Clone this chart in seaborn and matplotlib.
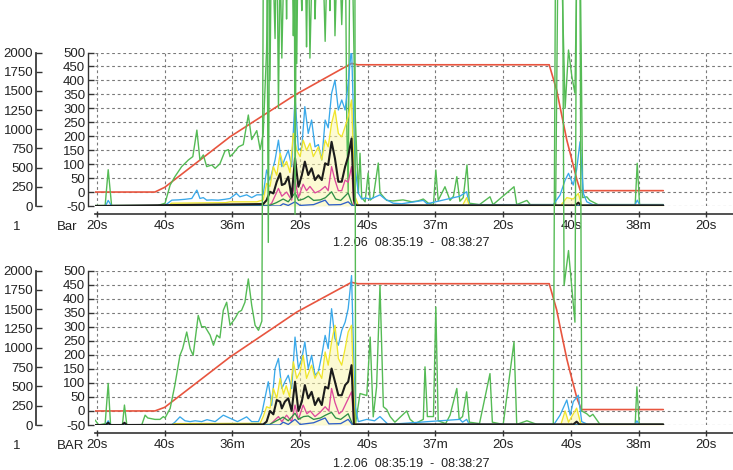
import matplotlib
matplotlib.use("Agg")
import matplotlib.pyplot as plt
import seaborn as sns
import pandas as pd
from matplotlib.transforms import Bbox, TransformedBbox

# ---------------- data (time = seconds after 08:35:00, value on -50..500 scale) -------------
X_TICKS = [20, 40, 60, 80, 100, 120, 140, 160, 180, 200]
X_LABELS = ["20s", "40s", "36m", "20s", "40s", "37m", "20s", "40s", "38m", "20s"]
Y_TICKS = [-50, 0, 50, 100, 150, 200, 250, 300, 350, 400, 450, 500]
Y2_TICKS = [0, 250, 500, 750, 1000, 1250, 1500, 1750, 2000]
DATE_TEXT = "1.2.06  08:35:19  -  08:38:27"
UNITS = ["Bar", "BAR"]

TOP_RED = [(19.4, 0), (37.1, 0), (40.0, 17), (59.3, 198), (78.5, 348), (95.2, 461), (97.0, 456),
           (153.6, 456), (155.8, 365), (156.8, 305), (158.8, 186), (159.8, 139), (161.8, 43),
           (162.8, 5), (187.3, 5)]
BOT_RED = [(19.4, 0), (37.1, 0), (40.0, 13), (59.3, 192), (79.0, 352), (95.2, 458), (97.0, 453),
           (153.6, 453), (155.8, 360), (156.8, 300), (158.8, 185), (159.8, 137), (161.8, 45),
           (163.1, 5), (187.3, 5)]

TOP_GREEN = [(19.4, -48), (22.4, -48), (23.3, 80), (24.3, -48), (38.0, -48), (40.1, -40), (41.6, 25),
             (43.0, 55), (45.0, 91), (47.0, 115), (48.3, 127), (49.5, 222), (50.4, 115), (51.4, 133),
             (52.4, 91), (53.9, 97), (54.9, 85), (56.3, 101), (57.8, 147), (58.8, 152), (59.3, 127),
             (60.3, 139), (61.8, 162), (63.2, 170), (64.7, 276), (65.7, 188), (67.2, 220), (68.2, 152),
             (69.1, 210), (70.1, 510), (70.6, 900), (71.1, 400), (71.6, 1000), (72.6, 550), (73.1, 1000),
             (73.6, 300), (74.1, 850), (74.6, 480), (75.5, 1000), (76.0, 620), (76.5, 1000), (77.0, 700),
             (77.5, 1000), (78.0, 560), (78.5, 900), (79.0, 460), (79.5, 1000), (80.5, 650), (81.4, 1000),
             (81.9, 520), (82.4, 950), (82.9, 480), (83.9, 1000), (84.4, 620), (85.4, 1000), (85.9, 700),
             (86.4, 1000), (87.4, 540), (88.3, 1000), (88.8, 650), (89.8, 1000), (90.3, 560), (91.3, 1000),
             (92.3, 600), (93.3, 1000), (93.8, 230), (94.2, 0), (94.7, 900), (95.2, 1000), (96.2, 300),
             (97.2, -5), (97.7, 139), (98.2, -20), (99.2, -35), (100.1, 68), (100.7, -29), (101.6, -20),
             (103.1, 104), (103.6, -3), (105.6, -30), (107.5, -32), (110.4, -28), (113.0, -35),
             (114.8, -32), (116.4, -25), (117.9, -40), (119.4, -45), (120.1, 79), (120.8, -30),
             (122.8, 19), (124.3, -30), (125.3, -15), (126.3, 55), (127.2, -33), (128.2, -20),
             (129.3, 97), (130.0, -40), (133.0, -45), (136.1, -17), (137.0, -45), (143.2, 19),
             (144.0, -45), (147.0, -30), (148.0, -45), (155.5, -45), (156.3, 1000), (157.3, 800),
             (158.3, 300), (159.3, 509), (160.3, 413), (161.2, 354), (162.0, 1000), (162.7, 900),
             (163.5, -20), (164.7, -17), (165.6, -30), (168.0, -45), (179.0, -45), (179.6, 103),
             (180.3, -45), (187.3, -45)]
BOT_GREEN = [(19.4, -32), (20.5, -50), (22.4, -45), (23.3, 98), (24.0, -50), (27.5, -50), (28.1, 21),
             (28.8, -50), (33.2, -50), (34.2, -15), (35.0, -25), (37.1, -30), (38.6, -30), (39.6, -20),
             (40.1, -25), (41.6, 9), (43.0, 92), (44.5, 198), (45.3, 222), (46.5, 281), (47.5, 222),
             (48.4, 198), (49.9, 340), (50.9, 300), (51.9, 300), (53.4, 270), (54.4, 234), (55.4, 270),
             (56.3, 260), (57.3, 358), (58.3, 387), (59.3, 305), (60.8, 330), (61.8, 352), (62.7, 358),
             (63.7, 387), (64.7, 470), (65.7, 376), (66.7, 305), (67.7, 287), (68.7, 320), (69.6, 3000),
             (70.6, 600), (71.6, 3000), (78.0, 3000), (78.5, 700), (79.5, 3000), (85.0, 2200),
             (90.0, 3000), (96.0, 3000), (96.4, -43), (97.7, 62), (99.7, 55), (100.7, 263),
             (101.6, -21), (102.6, 86), (103.6, 447), (104.6, 15), (105.6, 5), (106.6, -20), (108.0, -40),
             (111.5, 0), (112.5, -30), (114.0, -45), (116.4, -30), (116.9, 157), (117.6, -20),
             (119.4, -20), (120.1, 370), (120.8, -35), (123.0, -45), (124.3, -15), (126.3, 80),
             (127.0, -30), (128.0, -20), (129.2, 68), (130.0, -40), (133.0, -45), (136.1, 133),
             (136.8, -40), (140.0, -48), (143.2, 246), (144.0, -48), (147.0, -35), (150.0, -48),
             (154.8, -48), (156.0, 3000), (157.0, 3000), (158.0, 447), (159.3, 571), (160.3, 435),
             (161.2, 316), (162.2, 3000), (163.2, 0), (164.7, -10), (165.6, -20), (166.5, -12),
             (168.6, -48), (179.0, -48), (179.5, 86), (180.2, -48), (187.3, -48)]

TOP_BLUE = [(19.4, -50), (22.5, -50), (23.3, -30), (24.3, -50), (40.1, -50), (40.6, -43), (42.1, -29),
            (44.0, -28), (46.0, -26), (48.0, -23), (49.5, 7), (50.4, -23), (51.4, -20), (52.4, -29),
            (53.9, -28), (55.8, -29), (57.8, -26), (59.3, -23), (61.2, -5), (62.2, -17), (64.2, -10),
            (65.7, -20), (67.2, -10), (69.1, -10), (70.1, 79), (71.1, 43), (72.6, 115), (73.6, 186),
            (74.6, 91), (75.5, 120), (76.5, 150), (77.5, 91), (78.5, 342), (79.5, 150), (80.5, 160),
            (81.4, 306), (82.4, 210), (83.4, 258), (84.4, 162), (85.4, 170), (86.4, 115), (87.4, 258),
            (88.3, 230), (89.3, 354), (90.3, 401), (91.3, 294), (92.3, 330), (93.3, 294), (94.2, 390),
            (95.2, 520), (96.2, 91), (97.2, -4), (98.2, -25), (99.2, -21), (100.7, -25), (101.6, -21),
            (103.6, -10), (105.1, -25), (107.5, -40), (110.0, -42), (116.4, -30), (117.5, -42),
            (127.2, -15), (129.2, 1), (130.0, -45), (154.8, -45), (156.8, -11), (158.3, 43),
            (159.3, 67), (160.7, 25), (161.7, 80), (162.7, 180), (163.7, -5), (164.7, -35),
            (166.5, -45), (179.0, -45), (179.6, -29), (180.3, -45), (187.3, -45)]
BOT_BLUE = [(19.4, -50), (22.5, -50), (23.3, -35), (24.0, -50), (42.0, -50), (43.0, -40), (44.5, -21),
            (46.0, -35), (47.5, -38), (49.0, -35), (50.9, -38), (52.5, -31), (54.9, -38), (57.3, -15),
            (59.3, -26), (61.5, -38), (64.2, -21), (65.7, -38), (67.7, -38), (68.7, -8), (69.6, 45),
            (70.6, 104), (71.6, 20), (72.6, 151), (73.6, 187), (74.6, 80), (75.5, 104), (76.5, 127),
            (77.5, 80), (78.5, 263), (79.5, 151), (80.5, 187), (81.4, 246), (82.4, 151), (83.4, 198),
            (84.4, 127), (85.4, 140), (86.4, 198), (87.4, 269), (88.3, 222), (89.3, 364), (90.3, 258),
            (91.3, 234), (92.3, 287), (93.3, 316), (94.2, 364), (95.2, 482), (96.2, 21), (97.2, -38),
            (99.7, -30), (102.0, -35), (103.6, -20), (106.0, -48), (127.2, -30), (128.0, -40),
            (129.2, -30), (130.0, -48), (155.0, -48), (156.8, -15), (158.8, 39), (159.8, -15),
            (160.7, 33), (162.2, 56), (163.2, -38), (165.0, -48), (179.0, -48), (179.5, -35),
            (180.2, -48), (187.3, -48)]

TOP_YELLOW = [(19.4, -50), (41.0, -50), (42.0, -40), (58.0, -38), (59.3, -35), (67.2, -35), (69.1, -28),
              (70.1, 31), (71.1, 20), (72.1, 91), (73.1, 60), (74.1, 139), (75.1, 91), (76.0, 110),
              (77.0, 70), (78.0, 210), (79.0, 150), (80.0, 127), (80.9, 186), (81.9, 150), (82.9, 175),
              (83.9, 127), (85.4, 162), (86.4, 115), (87.4, 186), (88.3, 162), (89.3, 246), (90.3, 294),
              (91.3, 210), (92.3, 198), (93.3, 234), (94.2, 270), (95.2, 330), (96.2, -15), (97.2, -48),
              (128.0, -48), (129.2, -20), (130.0, -48), (157.0, -48), (158.8, -20), (160.7, -25),
              (162.2, -5), (163.2, -48), (187.3, -48)]
BOT_YELLOW = [(19.4, -50), (42.0, -50), (43.0, -45), (68.2, -44), (69.1, -20), (70.1, 15), (71.1, 10),
              (72.1, 80), (73.1, 45), (74.1, 116), (75.1, 60), (75.9, 90), (76.9, 50), (78.0, 175),
              (79.0, 116), (80.0, 140), (80.9, 198), (81.9, 116), (83.4, 163), (84.4, 116), (85.4, 140),
              (86.4, 116), (87.4, 210), (88.3, 163), (89.3, 246), (90.3, 305), (91.3, 187), (92.3, 163),
              (93.3, 222), (94.2, 281), (95.2, 305), (96.2, -44), (97.0, -50), (157.0, -50), (158.3, 0),
              (159.3, -40), (161.7, 10), (163.0, -48), (187.3, -48)]

TOP_BLACK = [(19.4, -50), (69.1, -43), (70.1, -29), (71.1, 1), (72.1, -5), (73.1, 37), (74.1, 67),
             (74.6, 25), (75.5, 30), (76.5, 55), (77.5, -17), (78.5, 121), (79.5, 19), (80.5, 60),
             (81.4, 109), (82.4, 61), (83.4, 85), (84.4, 43), (85.4, 60), (86.4, 43), (87.4, 103),
             (88.3, 97), (89.3, 180), (90.3, 120), (91.3, 37), (92.3, 37), (93.3, 91), (94.2, 127),
             (95.2, 192), (95.9, -29), (96.5, -48), (161.2, -48), (162.2, -38), (163.0, -48), (187.3, -48)]
BOT_BLACK = [(19.4, -50), (22.6, -50), (23.3, -42), (24.0, -50), (27.4, -50), (28.1, -42), (28.8, -50),
             (69.1, -48), (70.1, -38), (71.1, 0), (72.1, -12), (73.1, 39), (74.1, 33), (74.6, 9),
             (75.5, 33), (76.5, 45), (77.5, 0), (78.5, 104), (79.5, 0), (80.5, 33), (81.4, 92), (82.4, 45),
             (83.4, 68), (84.4, 21), (85.4, 45), (86.4, 21), (87.4, 86), (88.3, 80), (89.3, 151),
             (90.3, 104), (91.3, 56), (92.3, 56), (93.3, 92), (94.2, 104), (95.2, 163), (95.9, -48),
             (160.7, -48), (161.7, -38), (162.5, -48), (187.3, -48)]

TOP_MAGENTA = [(19.4, -50), (70.6, -50), (71.6, -40), (73.6, 13), (74.6, -15), (76.0, 0), (77.5, -29),
               (78.5, 43), (79.5, -20), (80.9, 28), (81.9, 5), (82.9, 20), (84.4, -3), (85.9, 5),
               (87.4, 20), (88.3, 5), (89.3, 91), (90.3, 43), (91.3, 5), (92.3, 5), (93.3, 43),
               (94.2, 35), (95.2, 91), (95.9, -48), (187.3, -48)]
BOT_MAGENTA = [(19.4, -50), (71.0, -50), (73.6, -20), (74.6, -38), (76.0, -15), (77.5, -38), (78.5, 21),
               (79.5, -30), (80.9, 21), (82.0, -10), (83.0, 0), (84.4, -20), (85.9, -5), (87.4, 15),
               (88.5, 0), (89.3, 80), (90.3, 30), (91.5, -10), (92.5, 0), (93.8, 33), (95.2, 68),
               (95.9, -48), (187.3, -48)]

TOP_DKGREEN = [(19.4, -50), (71.0, -48), (73.0, -38), (75.0, -25), (76.5, -35), (78.5, -3), (79.5, -30),
               (81.0, -25), (82.4, -15), (84.0, -30), (86.0, -28), (87.5, -20), (89.3, 1), (90.5, -25),
               (92.0, -30), (94.2, -3), (95.5, -48), (187.3, -48)]
BOT_DKGREEN = [(19.4, -50), (71.0, -48), (73.0, -35), (75.0, -22), (76.5, -35), (78.5, -8), (79.5, -30),
               (81.0, -20), (82.4, -18), (84.0, -30), (86.0, -25), (87.5, -15), (89.3, -5), (90.5, -25),
               (92.0, -30), (94.2, -10), (95.5, -48), (187.3, -48)]

TOP_DKBLUE = [(19.4, -50), (74.0, -50), (75.0, -42), (76.5, -48), (78.5, -35), (80.0, -48), (84.0, -45),
              (87.4, -29), (88.5, -46), (92.0, -45), (94.2, -35), (95.5, -50), (187.3, -50)]
BOT_DKBLUE = [(19.4, -50), (74.0, -50), (75.0, -40), (76.5, -48), (78.5, -30), (80.0, -48), (84.0, -42),
              (87.4, -25), (88.5, -46), (92.0, -45), (94.2, -30), (95.5, -50), (187.3, -50)]

COLORS = dict(red="#e8553f", green="#55bb55", blue="#3aa9ea", yellow="#efe52c", black="#1c1c1c",
              magenta="#de4a9c", dkgreen="#2f8f46", dkblue="#2f5fc8")

# ---------------- layout ----------------
W, H = 733, 470
sns.set_theme(style="white")
plt.rcParams['font.family'] = ['Liberation Sans', 'DejaVu Sans']
plt.rcParams['font.size'] = 9.5

fig = plt.figure(figsize=(W / 100, H / 100), dpi=100)
PX = 0.72  # points per pixel
FS = 9.5

panels = [
    dict(top=52.5, bot=206.0, unit=UNITS[0], date_y=243, label_y=227,
         series=[("red", TOP_RED), ("green", TOP_GREEN), ("blue", TOP_BLUE), ("yellow", TOP_YELLOW),
                 ("magenta", TOP_MAGENTA), ("dkgreen", TOP_DKGREEN), ("dkblue", TOP_DKBLUE),
                 ("black", TOP_BLACK)]),
    dict(top=270.5, bot=425.0, unit=UNITS[1], date_y=464, label_y=446,
         series=[("red", BOT_RED), ("green", BOT_GREEN), ("blue", BOT_BLUE), ("yellow", BOT_YELLOW),
                 ("magenta", BOT_MAGENTA), ("dkgreen", BOT_DKGREEN), ("dkblue", BOT_DKBLUE),
                 ("black", BOT_BLACK)]),
]

LEFT_PX = 95
for i, p in enumerate(panels):
    ax = fig.add_axes([LEFT_PX / W, 1 - p["bot"] / H, (W - LEFT_PX) / W, (p["bot"] - p["top"]) / H])
    ax.set_zorder(2 + 3 * i)
    ax.patch.set_visible(False)
    order = 0
    for name, pts in p["series"]:
        df = pd.DataFrame(pts, columns=["t", "v"])
        lw = {"black": 1.5, "red": 1.2, "green": 1.0}.get(name, 0.95)
        if name == "yellow":
            ax.fill_between(df["t"], -50, df["v"], color="#fbf6a8", alpha=0.5, linewidth=0, zorder=1.5)
        sns.lineplot(data=df, x="t", y="v", ax=ax, color=COLORS[name], linewidth=lw,
                     estimator=None, sort=False, zorder=2 + order * 0.01)
        line = ax.lines[-1]
        if name == "green":
            pos = ax.get_position()
            bb = Bbox.from_extents(pos.x0, pos.y0, pos.x1, 1.0)
            line.set_clip_box(TransformedBbox(bb, fig.transFigure))
        order += 1

    ax.set_xlim(19.4, 207.9)
    ax.set_ylim(-50, 500)
    ax.set_xlabel("")
    ax.set_ylabel("")
    ax.set_xticks(X_TICKS)
    ax.set_xticklabels(X_LABELS)
    ax.set_yticks(Y_TICKS)
    ax.set_yticklabels([str(v) for v in Y_TICKS])
    ax.grid(True, linestyle=(0, (2.5, 2.5)), color="#7a7a7a", linewidth=0.8)
    ax.set_axisbelow(True)
    for s in ["top", "right"]:
        ax.spines[s].set_visible(False)
    ax.spines["left"].set_position(("outward", 7 * PX))
    ax.spines["bottom"].set_position(("outward", 8 * PX))
    ax.spines["left"].set_color("#333333")
    ax.spines["bottom"].set_color("#333333")
    ax.spines["left"].set_linewidth(1.0)
    ax.spines["bottom"].set_linewidth(1.2)
    ax.tick_params(axis="y", direction="in", length=4, width=1, color="#333333", pad=2,
                   labelsize=FS, labelcolor="#222222", left=True)
    ax.tick_params(axis="x", direction="inout", length=5, width=1, color="#333333", pad=2,
                   labelsize=FS, labelcolor="#222222", bottom=True)

    ax2 = ax.twinx()
    ax2.set_ylim(0, 2000)
    ax2.set_yticks(Y2_TICKS)
    ax2.set_yticklabels([str(v) for v in Y2_TICKS])
    ax2.yaxis.tick_left()
    for s in ["top", "right", "bottom"]:
        ax2.spines[s].set_visible(False)
    ax2.spines["left"].set_visible(True)
    ax2.spines["left"].set_position(("outward", (LEFT_PX - 36) * PX))
    ax2.spines["left"].set_color("#333333")
    ax2.tick_params(axis="y", direction="in", length=4, width=1, color="#333333", pad=2,
                    labelsize=FS, labelcolor="#222222", left=True, right=False)
    ax2.grid(False)
    ax2.set_zorder(ax.get_zorder() - 1)

    fig.text(13 / W, 1 - p["label_y"] / H, "1", ha="left", va="center", fontsize=FS, color="#222222")
    fig.text(57 / W, 1 - p["label_y"] / H, p["unit"], ha="left", va="center", fontsize=FS, color="#222222")
    fig.text(411 / W, 1 - p["date_y"] / H, DATE_TEXT, ha="center", va="center", fontsize=9,
             color="#222222")

fig.savefig("out.png", dpi=100, facecolor="white")
